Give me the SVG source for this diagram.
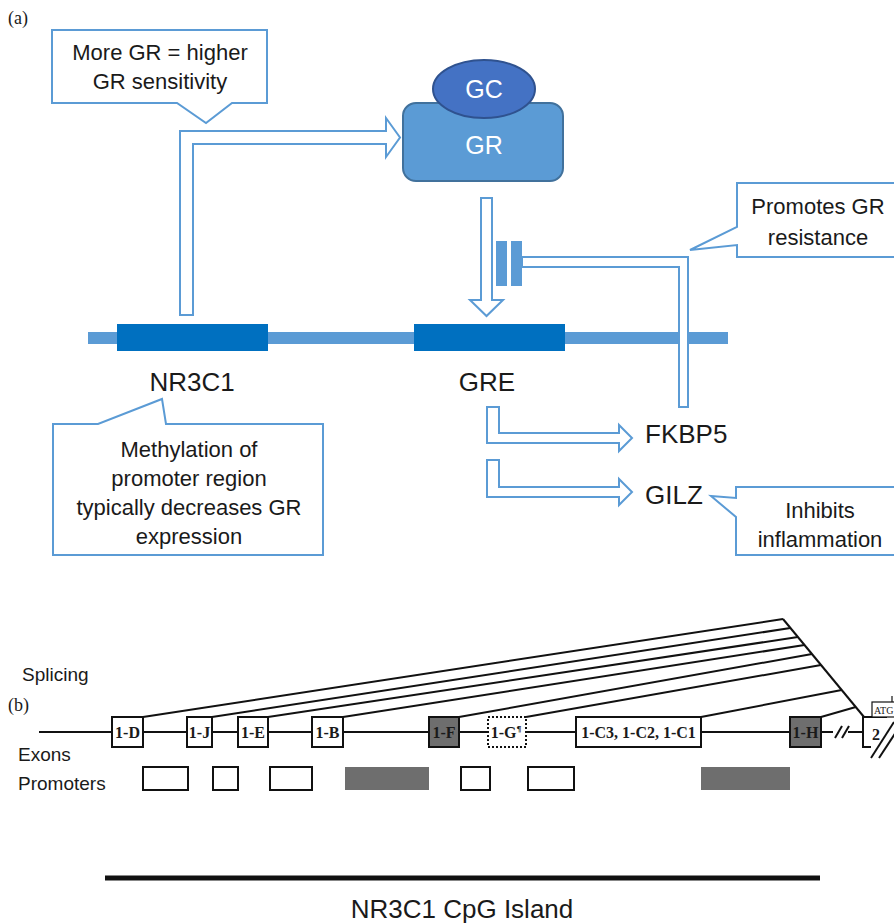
<svg xmlns="http://www.w3.org/2000/svg" width="894" height="924" viewBox="0 0 894 924">
<style>
.sans{font-family:"Liberation Sans",Arial,sans-serif;fill:#1a1a1a}
.serif{font-family:"Liberation Serif","Times New Roman",serif;fill:#1a1a1a}
.call{fill:#fff;stroke:#5b9bd5;stroke-width:2;stroke-linejoin:miter}
.hollow{fill:#fff;stroke:#5b9bd5;stroke-width:2;stroke-linejoin:miter}
.t22{font-size:22px;text-anchor:middle}
.t26{font-size:26px}
.blk{stroke:#111;stroke-width:2;fill:none}
.exon{fill:#fff;stroke:#111;stroke-width:2}
.gray{fill:#6e6e6e;stroke:#111;stroke-width:2}
.ex{font-size:16px;font-weight:bold;text-anchor:middle}
.lab{font-size:19px}
</style>
<rect width="894" height="924" fill="#fff"/>

<text class="serif" x="8" y="24" font-size="18">(a)</text>

<!-- chromosome -->
<g id="chromosome">
<rect x="88" y="332" width="640" height="12" fill="#5b9bd5"/>
<rect id="nr3c1-box" x="117" y="324" width="151" height="27" fill="#0070c0"/>
<rect id="gre-box" x="414" y="324" width="151" height="27" fill="#0070c0"/>
</g>

<g id="connectors">
<!-- NR3C1 to GR bent arrow -->
<polygon class="hollow" points="180,315 180,131 386,131 386,118 400,137.5 386,157 386,144 193,144 193,315"/>
<!-- GR to GRE down arrow -->
<polygon class="hollow" points="481,198 492,198 492,300 503,300 486.5,316 470,300 481,300"/>
<!-- inhibitor from FKBP5 -->
<polygon class="hollow" points="522,257 688,257 688,407 679,407 679,267 522,267"/>
<rect x="496" y="241" width="11" height="45" fill="#5b9bd5"/>
<rect x="511" y="241" width="11" height="45" fill="#5b9bd5"/>
<!-- GRE to FKBP5 -->
<polygon class="hollow" points="487,407 499,407 499,433 619,433 619,425 632,438 619,451 619,443 487,443"/>
<!-- GRE to GILZ -->
<polygon class="hollow" points="487,460 499,460 499,487 619,487 619,479 632,492 619,505 619,497 487,497"/>
</g>

<g id="gc-gr">
<rect x="403" y="103" width="160" height="78" rx="13" fill="#5b9bd5" stroke="#41719c" stroke-width="2"/>
<ellipse cx="484" cy="89" rx="51" ry="29" fill="#4472c4" stroke="#2f528f" stroke-width="2"/>
<text class="sans" x="484" y="98" font-size="25" text-anchor="middle" style="fill:#fff">GC</text>
<text class="sans" x="484" y="154" font-size="25" text-anchor="middle" style="fill:#fff">GR</text>
</g>

<g id="callout-sensitivity">
<polygon class="call" points="52,30 267,30 267,103 232,103 206,123 177,103 52,103"/>
<text class="sans t22" x="160" y="60">More GR = higher</text>
<text class="sans t22" x="160" y="89">GR sensitivity</text>
</g>

<g id="callout-resistance">
<polygon class="call" points="737,183 900,183 900,257 737,257 737,245 690,250 737,227"/>
<text class="sans t22" x="818" y="214">Promotes GR</text>
<text class="sans t22" x="818" y="245">resistance</text>
</g>

<g id="label-nr3c1"><text class="sans t26" x="192" y="391" text-anchor="middle">NR3C1</text></g>
<g id="label-gre"><text class="sans t26" x="487" y="391" text-anchor="middle">GRE</text></g>

<g id="callout-methylation">
<polygon class="call" points="53,424 98,424 162,399 166,424 323,424 323,555 53,555"/>
<text class="sans t22" x="189" y="457">Methylation of</text>
<text class="sans t22" x="189" y="486">promoter region</text>
<text class="sans t22" x="189" y="515">typically decreases GR</text>
<text class="sans t22" x="189" y="544">expression</text>
</g>

<g id="fkbp5"><text class="sans t26" x="645" y="443">FKBP5</text></g>
<g id="gilz"><text class="sans t26" x="645" y="504">GILZ</text></g>

<g id="callout-inflammation">
<polygon class="call" points="736,487 900,487 900,555 736,555 736,517 711,496 736,498"/>
<text class="sans t22" x="820" y="518">Inhibits</text>
<text class="sans t22" x="820" y="547">inflammation</text>
</g>

<!-- Part b -->
<text class="sans lab" x="22" y="681">Splicing</text>
<text class="serif" x="8" y="711" font-size="18">(b)</text>
<text class="sans lab" x="18" y="761">Exons</text>
<text class="sans lab" x="18" y="790">Promoters</text>

<g id="splicing">
<line class="blk" x1="39" y1="732" x2="833" y2="732"/>
<line class="blk" x1="848" y1="732" x2="863" y2="732"/>
<line class="blk" x1="835" y1="738" x2="842" y2="726"/>
<line class="blk" x1="842" y1="738" x2="849" y2="726"/>
<polyline class="blk" points="783,619 864,717"/>
<line class="blk" x1="143" y1="717" x2="783" y2="619"/>
<line class="blk" x1="212" y1="717" x2="790.4" y2="628"/>
<line class="blk" x1="268" y1="717" x2="797.9" y2="637"/>
<line class="blk" x1="343" y1="717" x2="804.5" y2="645"/>
<line class="blk" x1="459" y1="717" x2="812" y2="654"/>
<line class="blk" x1="526" y1="717" x2="821" y2="665"/>
<line class="blk" x1="701" y1="717" x2="841.7" y2="690"/>
<line class="blk" x1="821" y1="717" x2="855.8" y2="707"/>
</g>

<g id="exons">
<g id="exon-1D"><rect class="exon" x="112" y="717" width="31" height="30"/><text class="serif ex" x="127.5" y="737.5">1-D</text></g>
<g id="exon-1J"><rect class="exon" x="187" y="717" width="25" height="30"/><text class="serif ex" x="199.5" y="737.5">1-J</text></g>
<g id="exon-1E"><rect class="exon" x="238" y="717" width="30" height="30"/><text class="serif ex" x="253" y="737.5">1-E</text></g>
<g id="exon-1B"><rect class="exon" x="312" y="717" width="31" height="30"/><text class="serif ex" x="327.5" y="737.5">1-B</text></g>
<g id="exon-1F"><rect class="gray" x="429" y="717" width="30" height="30"/><text class="serif ex" x="444" y="737.5">1-F</text></g>
<g id="exon-1G"><rect class="exon" x="488" y="717" width="38" height="30" stroke-dasharray="2,2" stroke-width="1.5"/><text class="serif ex" x="506" y="737.5">1-G<tspan font-size="9" dy="-6">¶</tspan></text></g>
<g id="exon-1C"><rect class="exon" x="576" y="717" width="125" height="30"/><text class="serif ex" x="638.5" y="737.5">1-C3, 1-C2, 1-C1</text></g>
<g id="exon-1H"><rect class="gray" x="790" y="717" width="31" height="30"/><text class="serif ex" x="805.5" y="737.5">1-H</text></g>
<g id="exon-2">
<polyline class="blk" points="887,717 863,717 863,747 871,747"/>
<line class="blk" x1="871" y1="758" x2="894" y2="722"/>
<line class="blk" x1="879" y1="758" x2="900" y2="726"/>
<text class="serif ex" x="876" y="740">2</text>
<rect x="872" y="702" width="30" height="15" fill="#fff" stroke="#111" stroke-width="1.2"/>
<text class="serif" x="874" y="714" font-size="10">ATG</text>
<line x1="892" y1="696" x2="892" y2="702" stroke="#111" stroke-width="1.2"/>
</g>
</g>

<g id="promoters">
<rect class="exon" x="143" y="767" width="45" height="23"/>
<rect class="exon" x="213" y="767" width="25" height="23"/>
<rect class="exon" x="270" y="767" width="42" height="23"/>
<rect x="345" y="767" width="84" height="23" fill="#6e6e6e"/>
<rect class="exon" x="461" y="767" width="29" height="23"/>
<rect class="exon" x="528" y="767" width="46" height="23"/>
<rect x="701" y="767" width="89" height="23" fill="#6e6e6e"/>
</g>

<g id="cpg-island">
<line x1="105" y1="878" x2="820" y2="878" stroke="#111" stroke-width="5"/>
<text class="sans" x="462" y="918" font-size="26" text-anchor="middle">NR3C1 CpG Island</text>
</g>
</svg>
